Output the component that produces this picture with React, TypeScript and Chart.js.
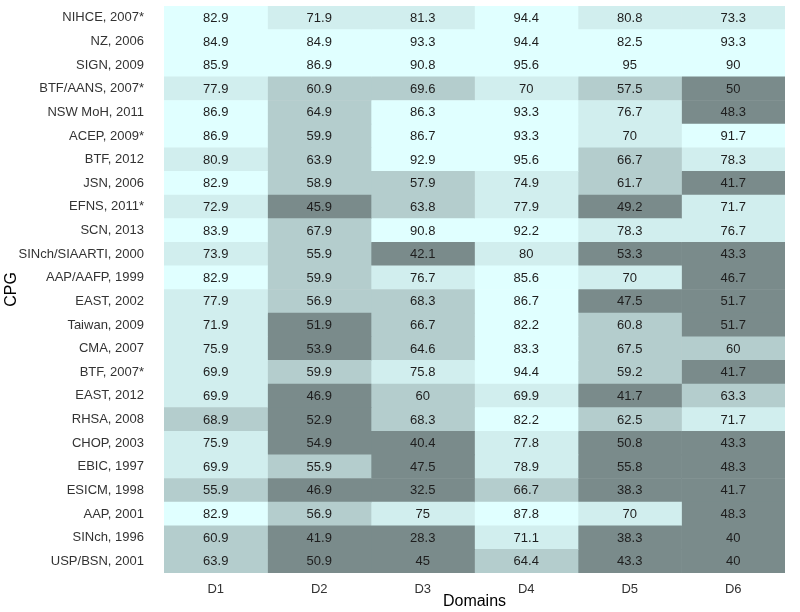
import React, { useEffect, useRef } from "react";
import { Chart, registerables } from "chart.js";

Chart.register(...registerables);

const cpgs = [
  "NIHCE, 2007*", "NZ, 2006", "SIGN, 2009", "BTF/AANS, 2007*", "NSW MoH, 2011",
  "ACEP, 2009*", "BTF, 2012", "JSN, 2006", "EFNS, 2011*", "SCN, 2013",
  "SINch/SIAARTI, 2000", "AAP/AAFP, 1999", "EAST, 2002", "Taiwan, 2009", "CMA, 2007",
  "BTF, 2007*", "EAST, 2012", "RHSA, 2008", "CHOP, 2003", "EBIC, 1997",
  "ESICM, 1998", "AAP, 2001", "SINch, 1996", "USP/BSN, 2001",
];

const domains = ["D1", "D2", "D3", "D4", "D5", "D6"];

const d1 = [82.9, 84.9, 85.9, 77.9, 86.9, 86.9, 80.9, 82.9, 72.9, 83.9, 73.9, 82.9, 77.9, 71.9, 75.9, 69.9, 69.9, 68.9, 75.9, 69.9, 55.9, 82.9, 60.9, 63.9];
const d2 = [71.9, 84.9, 86.9, 60.9, 64.9, 59.9, 63.9, 58.9, 45.9, 67.9, 55.9, 59.9, 56.9, 51.9, 53.9, 59.9, 46.9, 52.9, 54.9, 55.9, 46.9, 56.9, 41.9, 50.9];
const d3 = [81.3, 93.3, 90.8, 69.6, 86.3, 86.7, 92.9, 57.9, 63.8, 90.8, 42.1, 76.7, 68.3, 66.7, 64.6, 75.8, 60, 68.3, 40.4, 47.5, 32.5, 75, 28.3, 45];
const d4 = [94.4, 94.4, 95.6, 70, 93.3, 93.3, 95.6, 74.9, 77.9, 92.2, 80, 85.6, 86.7, 82.2, 83.3, 94.4, 69.9, 82.2, 77.8, 78.9, 66.7, 87.8, 71.1, 64.4];
const d5 = [80.8, 82.5, 95, 57.5, 76.7, 70, 66.7, 61.7, 49.2, 78.3, 53.3, 70, 47.5, 60.8, 67.5, 59.2, 41.7, 62.5, 50.8, 55.8, 38.3, 70, 38.3, 43.3];
const d6 = [73.3, 93.3, 90, 50, 48.3, 91.7, 78.3, 41.7, 71.7, 76.7, 43.3, 46.7, 51.7, 51.7, 60, 41.7, 63.3, 71.7, 43.3, 48.3, 41.7, 48.3, 40, 40];

const domainValues = [d1, d2, d3, d4, d5, d6];

// colour bins (upper bounds) and fills
const breaks = [55.85, 69.75, 81.8];
const fills = ["#7A8B8B", "#B4CDCD", "#D1EEEE", "#E0FFFF"];

function fillFor(v: number): string {
  let i = 0;
  while (i < breaks.length && v >= breaks[i]) i++;
  return fills[i];
}

const valueLabels = {
  id: "valueLabels",
  afterDatasetsDraw(chart: any) {
    const ctx = chart.ctx;
    ctx.save();
    ctx.font = "13px 'Liberation Sans', Arial, sans-serif";
    ctx.fillStyle = "#1e1e1e";
    ctx.textAlign = "center";
    ctx.textBaseline = "middle";
    chart.data.datasets.forEach((ds: any, di: number) => {
      const meta = chart.getDatasetMeta(di);
      meta.data.forEach((el: any, i: number) => {
        const cx = (el.x + el.base) / 2;
        ctx.fillText(String(ds.values[i]), cx, el.y + 0.5);
      });
    });
    ctx.restore();
  },
};

export default function App() {
  const ref = useRef<HTMLCanvasElement | null>(null);

  useEffect(() => {
    document.body.style.margin = "0";
    Chart.defaults.font.family = "'Liberation Sans', Arial, sans-serif";
    const datasets = domainValues.map((vals, j) => ({
      label: domains[j],
      data: vals.map(() => [j, j + 1]),
      values: vals,
      backgroundColor: vals.map(fillFor),
      borderWidth: 0,
      barPercentage: 1,
      categoryPercentage: 1,
      grouped: false,
    }));
    const chart = new Chart(ref.current as HTMLCanvasElement, {
      type: "bar",
      data: { labels: cpgs, datasets: datasets as any },
      plugins: [valueLabels],
      options: {
        indexAxis: "y",
        animation: false,
        responsive: true,
        maintainAspectRatio: false,
        layout: { padding: { top: 6, right: 15, bottom: 0, left: 0 } },
        plugins: { legend: { display: false }, tooltip: { enabled: false } },
        scales: {
          x: {
            type: "linear",
            min: 0,
            max: 6,
            grid: { display: false, drawTicks: false },
            border: { display: false },
            afterBuildTicks: (scale: any) => {
              scale.ticks = domains.map((_, i) => ({ value: i + 0.5 }));
            },
            afterFit: (scale: any) => {
              scale.height = 39;
              scale.paddingLeft = 0;
              scale.paddingRight = 0;
            },
            ticks: {
              autoSkip: false,
              padding: 9,
              color: "#333333",
              font: { size: 13 },
              callback: (v: any) => domains[Math.floor(Number(v))],
            },
            title: {
              display: true,
              text: "Domains",
              color: "#000000",
              font: { size: 16 },
              padding: { top: 0, bottom: 1 },
            },
          },
          y: {
            type: "category",
            offset: true,
            grid: { display: false, drawTicks: false },
            border: { display: false },
            afterFit: (scale: any) => {
              scale.width = 164;
              scale.paddingTop = 0;
              scale.paddingBottom = 0;
            },
            ticks: {
              autoSkip: false,
              padding: 20,
              color: "#333333",
              font: { size: 13 },
            },
            title: {
              display: true,
              text: "CPG",
              color: "#000000",
              font: { size: 16 },
              padding: { top: 2, bottom: 0 },
            },
          },
        },
      } as any,
    });
    return () => chart.destroy();
  }, []);

  return (
    <div style={{ position: "fixed", left: 0, top: 0, width: 800, height: 612 }}>
      <canvas ref={ref} />
    </div>
  );
}
